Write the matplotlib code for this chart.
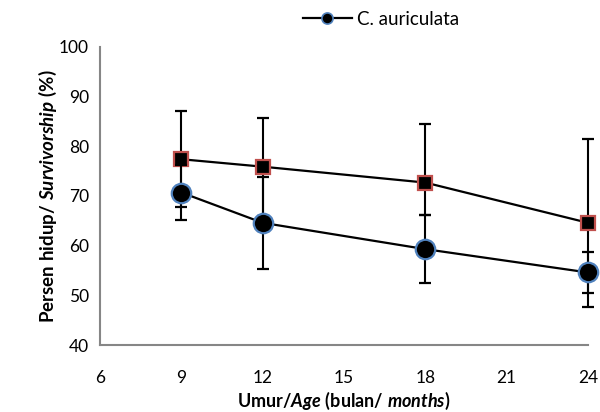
import matplotlib
matplotlib.use('Agg')
import matplotlib.pyplot as plt
from matplotlib.lines import Line2D
import numpy as np

# data
ages = [9, 12, 18, 24]
circ_vals = [70.7, 64.6, 59.3, 54.6]          # C. auriculata
circ_err_lo = [5.5, 9.3, 6.9, 4.2]
circ_err_hi = [5.5, 9.3, 6.9, 4.2]
sq_vals = [77.4, 75.9, 72.7, 64.6]
sq_err_lo = [9.7, 9.9, 6.5, 16.9]
sq_err_hi = [9.7, 9.9, 11.7, 16.9]

font = 'Lato'
plt.rcParams['font.family'] = [font, 'DejaVu Sans']
plt.rcParams['mathtext.fontset'] = 'custom'
plt.rcParams['mathtext.rm'] = font
plt.rcParams['mathtext.bf'] = font + ':bold'
plt.rcParams['mathtext.it'] = font + ':italic'
plt.rcParams['mathtext.bfit'] = font + ':italic:bold'

fig = plt.figure(figsize=(6, 4.12), dpi=100)
ax = fig.add_axes([0.1667, 0.1626, 0.8133, 0.7234])

ax.errorbar(ages, sq_vals, yerr=[sq_err_lo, sq_err_hi], color='black', lw=1.6,
            elinewidth=1.5, capsize=4.5, capthick=1.5, marker='s', ms=10,
            mfc='black', mec='#C0504D', mew=1.6, zorder=3, clip_on=False)
ax.errorbar(ages, circ_vals, yerr=[circ_err_lo, circ_err_hi], color='black', lw=1.6,
            elinewidth=1.5, capsize=4.5, capthick=1.5, marker='o', ms=14,
            mfc='black', mec='#4F81BD', mew=1.6, zorder=4, clip_on=False)

ax.set_xlim(6, 24)
ax.set_ylim(40, 100)
ax.set_xticks(np.arange(6, 25, 3))
ax.set_yticks(np.arange(40, 101, 10))
ax.tick_params(length=0, labelsize=12.5)
ax.tick_params(axis='x', pad=18)
ax.tick_params(axis='y', pad=8)

for s in ['top', 'right']:
    ax.spines[s].set_visible(False)
for s in ['left', 'bottom']:
    ax.spines[s].set_color('#868686')
    ax.spines[s].set_linewidth(1.5)

ax.set_xlabel(r'$\mathbf{Umur/}\mathbfit{Age}\mathbf{\ (bulan/\ }\mathbfit{months}\mathbf{)}$',
              fontsize=13, labelpad=3)
ax.set_ylabel(r'$\mathbf{Persen\ hidup/\ }\mathbfit{Survivorship}\mathbf{\ (\%)}$',
              fontsize=13.5, labelpad=0)

handle = Line2D([], [], color='black', lw=1.6, marker='o', ms=8,
                mfc='black', mec='#4F81BD', mew=1.2)
fig.legend([handle], ['C. auriculata'], loc='upper center', bbox_to_anchor=(0.635, 1.015),
           frameon=False, fontsize=13.5, handlelength=2.6, handletextpad=0.3)

plt.savefig('out.png', dpi=100)
